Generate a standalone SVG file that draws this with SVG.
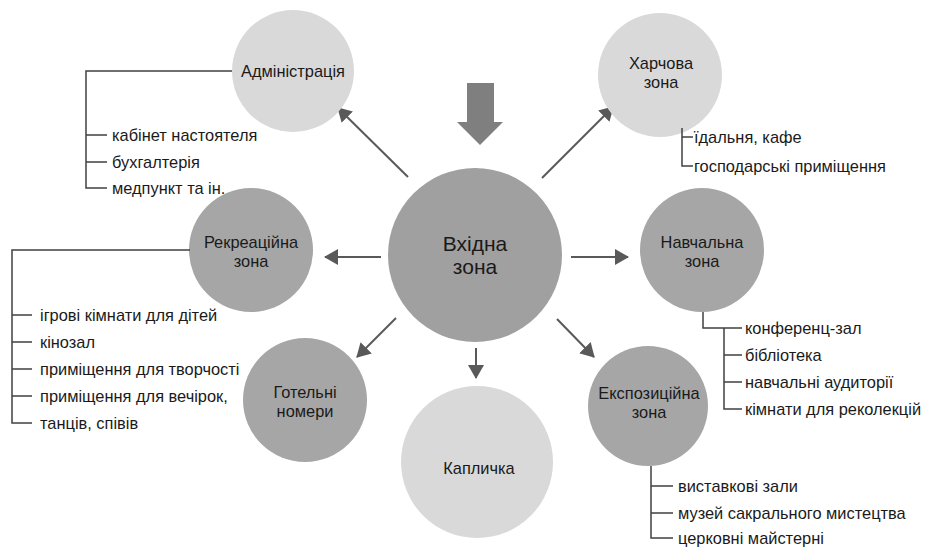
<svg xmlns="http://www.w3.org/2000/svg" width="932" height="549" viewBox="0 0 932 549">
<defs>
<marker id="ah" viewBox="0 0 14 16" refX="13" refY="8" markerWidth="14" markerHeight="16" markerUnits="userSpaceOnUse" orient="auto">
<path d="M0,0 L14,8 L0,16 Z" fill="#595959"/>
</marker>
</defs>
<style>
.light{fill:#d9d9d9}
.mid{fill:#a6a6a6}
.t{font-family:"Liberation Sans",Arial,sans-serif;font-size:16.4px;fill:#1a1a1a}
.c{text-anchor:middle}
.big{font-size:21px}
.arr{stroke:#595959;stroke-width:2;fill:none;marker-end:url(#ah)}
.br{stroke:#404040;stroke-width:1.5;fill:none}
</style>
<rect width="932" height="549" fill="#ffffff"/>
<g id="connectors">
<path class="arr" d="M408,177 L338,108"/>
<path class="arr" d="M542,178 L613,107"/>
<path class="arr" d="M381,257 L325,257"/>
<path class="arr" d="M571,257 L628,257"/>
<path class="arr" d="M396,318 L357,357"/>
<path class="arr" d="M476,348 L476,378"/>
<path class="arr" d="M557,319 L594,357"/>
<path id="entry-arrow" d="M467,83 H494 V122 H503 L480,145 L457,122 H467 Z" fill="#7f7f7f"/>
</g>
<g id="admin">
<circle class="light" cx="293" cy="71" r="61"/>
<text class="t c" x="293" y="77">Адміністрація</text>
<path class="br" d="M232,71 H86 V188 H107 M86,135 H107 M86,162 H107"/>
<text class="t" x="112" y="141">кабінет настоятеля</text>
<text class="t" x="112" y="168">бухгалтерія</text>
<text class="t" x="112" y="194">медпункт та ін.</text>
</g>
<g id="food">
<circle class="light" cx="660" cy="75" r="62"/>
<text class="t c" x="661" y="69">Харчова</text>
<text class="t c" x="661" y="88">зона</text>
<path class="br" d="M682,128 V166 H693 M682,137 H693"/>
<text class="t" x="694" y="143">їдальня, кафе</text>
<text class="t" x="694" y="172">господарські приміщення</text>
</g>
<g id="entry">
<circle cx="475" cy="255" r="87" fill="#a0a0a0"/>
<text class="t c big" x="475" y="251">Вхідна</text>
<text class="t c big" x="475" y="274">зона</text>
</g>
<g id="recreation">
<circle class="mid" cx="251" cy="250" r="62"/>
<text class="t c" x="251" y="248">Рекреаційна</text>
<text class="t c" x="251" y="267">зона</text>
<path class="br" d="M190,250 H12 V423 H32 M12,315 H32 M12,342 H32 M12,369 H32 M12,396 H32"/>
<text class="t" x="40" y="321">ігрові кімнати для дітей</text>
<text class="t" x="40" y="348">кінозал</text>
<text class="t" x="40" y="375">приміщення для творчості</text>
<text class="t" x="40" y="402">приміщення для вечірок,</text>
<text class="t" x="40" y="429">танців, співів</text>
</g>
<g id="study">
<circle class="mid" cx="702" cy="250" r="62"/>
<text class="t c" x="702" y="248">Навчальна</text>
<text class="t c" x="702" y="267">зона</text>
<path class="br" d="M703,312 V328 H742 M724,328 V409 H742 M724,355 H742 M724,382 H742"/>
<text class="t" x="745" y="334">конференц-зал</text>
<text class="t" x="745" y="361">бібліотека</text>
<text class="t" x="745" y="388">навчальні аудиторії</text>
<text class="t" x="745" y="415">кімнати для реколекцій</text>
</g>
<g id="hotel">
<circle class="mid" cx="305" cy="400" r="62"/>
<text class="t c" x="305" y="398">Готельні</text>
<text class="t c" x="305" y="417">номери</text>
</g>
<g id="chapel">
<circle class="light" cx="477" cy="462" r="76"/>
<text class="t c" x="479" y="474">Капличка</text>
</g>
<g id="exposition">
<circle class="mid" cx="648" cy="406" r="60"/>
<text class="t c" x="649" y="399">Експозиційна</text>
<text class="t c" x="649" y="418">зона</text>
<path class="br" d="M651,466 V538 H673 M651,486 H673 M651,513 H673"/>
<text class="t" x="678" y="492">виставкові зали</text>
<text class="t" x="678" y="519">музей сакрального мистецтва</text>
<text class="t" x="678" y="544">церковні майстерні</text>
</g>
</svg>
